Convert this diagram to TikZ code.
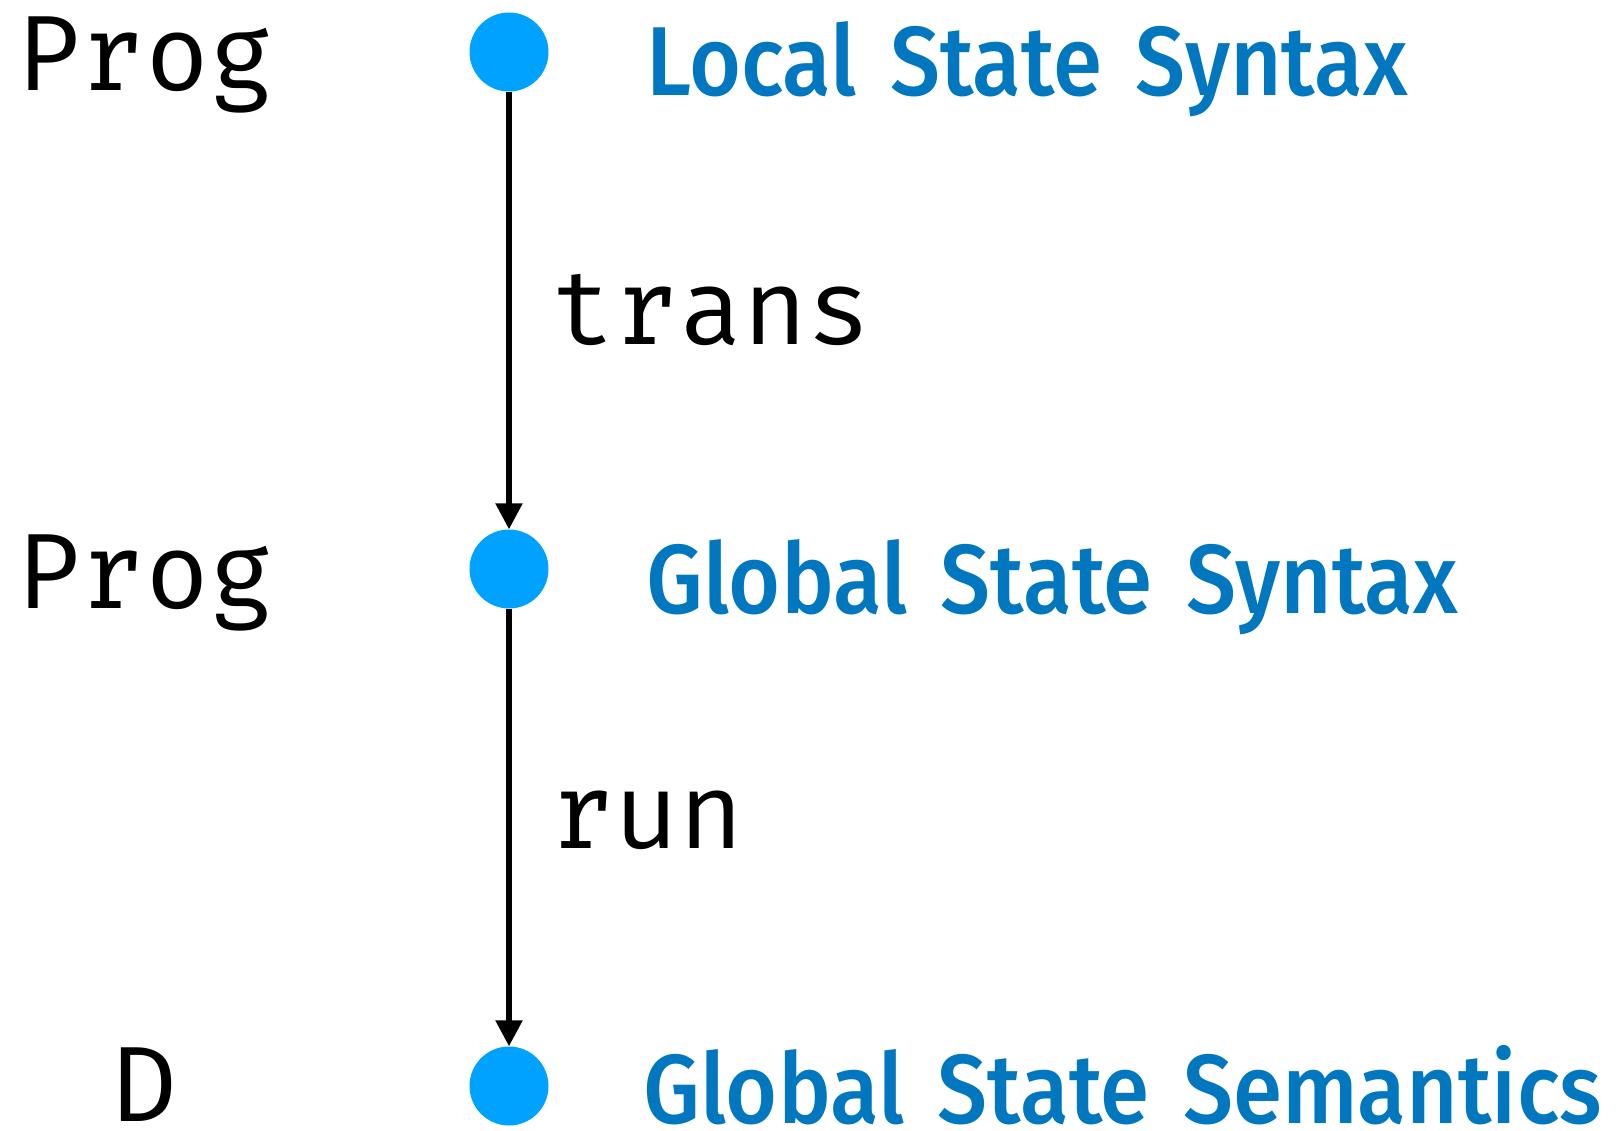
\documentclass[tikz,border=0pt]{standalone}
\usepackage{fontspec}
\usetikzlibrary{arrows.meta}
\newfontfamily\labfont[FakeStretch=0.91,WordSpace=1.5]{Fira Sans Medium}
\newfontfamily\codefont{Fira Mono}
\definecolor{dotblue}{RGB}{0,162,255}
\definecolor{textblue}{RGB}{0,119,190}
\tikzset{
  dot/.style={circle,fill=dotblue,minimum size=79pt,inner sep=0pt},
  code/.style={font=\codefont\fontsize{107}{120}\selectfont,inner sep=0pt},
  level/.style={font=\labfont\fontsize{98}{110}\selectfont,text=textblue,inner sep=0pt,anchor=base west},
  arr/.style={line width=5.5pt,-{Triangle[width=26pt,length=26pt]}}
}
\begin{document}
\begin{tikzpicture}
  [x=1pt,y=-1pt]
  \useasboundingbox (0,0) rectangle (1621,1131);

  \node (c1)[dot] at (509,52) {};
  \node (c2)[dot] at (509,569) {};
  \node (c3)[dot] at (509,1086) {};

  \node (p1)[code,anchor=base] at (145,91) {Prog};
  \node (p2)[code,anchor=base] at (145,608) {Prog};
  \node (p3)[code,anchor=base] at (145,1121) {D};

  \node (l1)[level] at (646,96) {Local State Syntax};
  \node (l2)[level] at (646,613) {Global State Syntax};
  \node (l3)[level] at (643,1123) {Global State Semantics};

  \draw[arr] (c1) -- (c2) node (t1)[code,anchor=base west] at (548,344) {trans};
  \draw[arr] (c2) -- (c3) node (t2)[code,anchor=base west] at (548,848) {run};

\end{tikzpicture}
\end{document}
